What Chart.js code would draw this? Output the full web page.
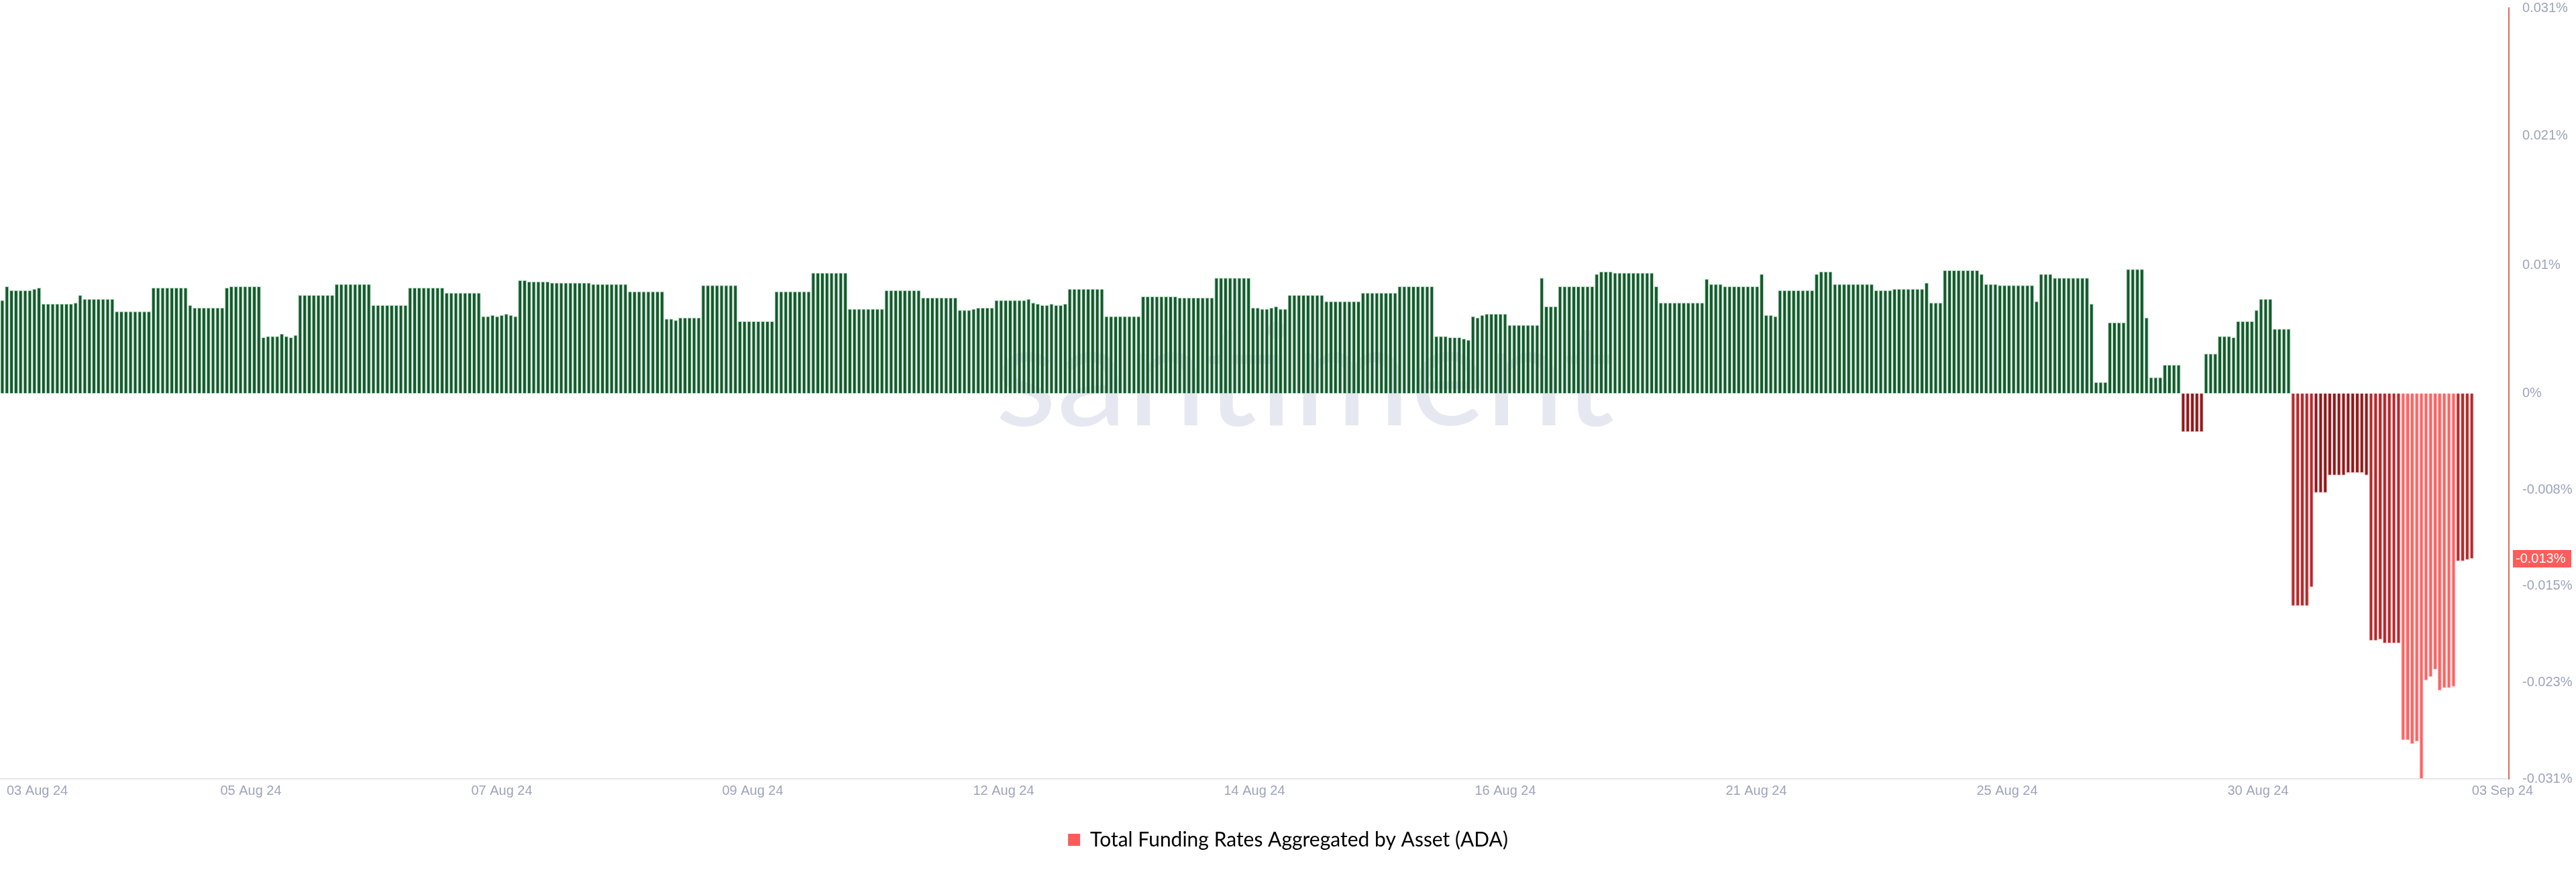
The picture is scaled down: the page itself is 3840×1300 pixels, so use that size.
<!DOCTYPE html>
<html>
<head>
<meta charset="utf-8">
<title>ADA funding rates</title>
<script src="https://cdn.jsdelivr.net/npm/chart.js@4.4.1/dist/chart.umd.min.js"></script>
<style>
  html, body { margin: 0; padding: 0; background: #ffffff; }
  #wrap { width: 3840px; height: 1300px; }
</style>
</head>
<body>
<div id="wrap"><canvas id="chart" width="3840" height="1300"></canvas></div>
<script>
const seriesName = 'Total Funding Rates Aggregated by Asset (ADA)';

// dates shown under the x axis, evenly spread over the plot
const xTickLabels = ['03 Aug 24', '05 Aug 24', '07 Aug 24', '09 Aug 24', '12 Aug 24', '14 Aug 24',
    '16 Aug 24', '21 Aug 24', '25 Aug 24', '30 Aug 24', '03 Sep 24'];

const yTickValues = [0.031, 0.0207, 0.0103, 0, -0.00775, -0.0155, -0.02325, -0.031];
const yTickLabels = ['0.031%', '0.021%', '0.01%', '0%', '-0.008%', '-0.015%', '-0.023%', '-0.031%'];

// funding rate in %, one value per bar
const fundingRate = [
    0.0075, 0.0086, 0.0083, 0.0083, 0.0083, 0.0083, 0.0083, 0.0084, 0.0085,
    0.0072, 0.0072, 0.0072, 0.0072, 0.0072, 0.0072, 0.0072, 0.0073, 0.0079,
    0.0076, 0.0076, 0.0076, 0.0076, 0.0076, 0.0076, 0.0076,
    0.0066, 0.0066, 0.0066, 0.0066, 0.0066, 0.0066, 0.0066, 0.0066,
    0.0085, 0.0085, 0.0085, 0.0085, 0.0085, 0.0085, 0.0085, 0.0085,
    0.0071, 0.0069, 0.0069, 0.0069, 0.0069, 0.0069, 0.0069, 0.0069,
    0.0085, 0.0086, 0.0086, 0.0086, 0.0086, 0.0086, 0.0086, 0.0086,
    0.0045, 0.0046, 0.0046, 0.0046, 0.0048, 0.0046, 0.0045, 0.0047,
    0.0079, 0.0079, 0.0079, 0.0079, 0.0079, 0.0079, 0.0079, 0.0079,
    0.0088, 0.0088, 0.0088, 0.0088, 0.0088, 0.0088, 0.0088, 0.0088,
    0.0071, 0.0071, 0.0071, 0.0071, 0.0071, 0.0071, 0.0071, 0.0071,
    0.0085, 0.0085, 0.0085, 0.0085, 0.0085, 0.0085, 0.0085, 0.0085,
    0.0081, 0.0081, 0.0081, 0.0081, 0.0081, 0.0081, 0.0081, 0.0081,
    0.0062, 0.0062, 0.0063, 0.0062, 0.0063, 0.0064, 0.0063, 0.0062,
    0.0091, 0.0091, 0.0090, 0.0090, 0.0090, 0.0090, 0.0090, 0.0089,
    0.0089, 0.0089, 0.0089, 0.0089, 0.0089, 0.0089, 0.0089, 0.0089,
    0.0088, 0.0088, 0.0088, 0.0088, 0.0088, 0.0088, 0.0088, 0.0088,
    0.0082, 0.0082, 0.0082, 0.0082, 0.0082, 0.0082, 0.0082, 0.0082,
    0.0060, 0.0060, 0.0059, 0.0061, 0.0061, 0.0061, 0.0061, 0.0061,
    0.0087, 0.0087, 0.0087, 0.0087, 0.0087, 0.0087, 0.0087, 0.0087,
    0.0058, 0.0058, 0.0058, 0.0058, 0.0058, 0.0058, 0.0058, 0.0058,
    0.0082, 0.0082, 0.0082, 0.0082, 0.0082, 0.0082, 0.0082, 0.0082,
    0.0097, 0.0097, 0.0097, 0.0097, 0.0097, 0.0097, 0.0097, 0.0097,
    0.0068, 0.0068, 0.0068, 0.0068, 0.0068, 0.0068, 0.0068, 0.0068,
    0.0083, 0.0083, 0.0083, 0.0083, 0.0083, 0.0083, 0.0083, 0.0083,
    0.0077, 0.0077, 0.0077, 0.0077, 0.0077, 0.0077, 0.0077, 0.0077,
    0.0067, 0.0067, 0.0067, 0.0068, 0.0069, 0.0069, 0.0069, 0.0069,
    0.0075, 0.0075, 0.0075, 0.0075, 0.0075, 0.0075, 0.0075, 0.0076,
    0.0073, 0.0072, 0.0071, 0.0071, 0.0072, 0.0071, 0.0071, 0.0072,
    0.0084, 0.0084, 0.0084, 0.0084, 0.0084, 0.0084, 0.0084, 0.0084,
    0.0062, 0.0062, 0.0062, 0.0062, 0.0062, 0.0062, 0.0062, 0.0062,
    0.0078, 0.0078, 0.0078, 0.0078, 0.0078, 0.0078, 0.0078, 0.0078,
    0.0077, 0.0077, 0.0077, 0.0077, 0.0077, 0.0077, 0.0077, 0.0077,
    0.0093, 0.0093, 0.0093, 0.0093, 0.0093, 0.0093, 0.0093, 0.0093,
    0.0069, 0.0069, 0.0068, 0.0068, 0.0069, 0.0070, 0.0068, 0.0068,
    0.0079, 0.0079, 0.0079, 0.0079, 0.0079, 0.0079, 0.0079, 0.0079,
    0.0074, 0.0074, 0.0074, 0.0074, 0.0074, 0.0074, 0.0074, 0.0074,
    0.0081, 0.0081, 0.0081, 0.0081, 0.0081, 0.0081, 0.0081, 0.0081,
    0.0086, 0.0086, 0.0086, 0.0086, 0.0086, 0.0086, 0.0086, 0.0086,
    0.0046, 0.0046, 0.0046, 0.0045, 0.0045, 0.0045, 0.0044, 0.0043,
    0.0062, 0.0061, 0.0063, 0.0064, 0.0064, 0.0064, 0.0064, 0.0064,
    0.0055, 0.0055, 0.0055, 0.0055, 0.0055, 0.0055, 0.0055, 0.0093,
    0.0070, 0.0070, 0.0070,
    0.0086, 0.0086, 0.0086, 0.0086, 0.0086, 0.0086, 0.0086, 0.0086,
    0.0096, 0.0098, 0.0098, 0.0098,
    0.0097, 0.0097, 0.0097, 0.0097, 0.0097, 0.0097, 0.0097, 0.0097, 0.0097,
    0.0086,
    0.0073, 0.0073, 0.0073, 0.0073, 0.0073, 0.0073, 0.0073, 0.0073, 0.0073, 0.0073,
    0.0092, 0.0088, 0.0088, 0.0088,
    0.0086, 0.0086, 0.0086, 0.0086, 0.0086, 0.0086, 0.0086, 0.0086,
    0.0096, 0.0063, 0.0063, 0.0062,
    0.0083, 0.0083, 0.0083, 0.0083, 0.0083, 0.0083, 0.0083, 0.0083,
    0.0096, 0.0098, 0.0098, 0.0098,
    0.0088, 0.0088, 0.0088, 0.0088, 0.0088, 0.0088, 0.0088, 0.0088, 0.0088,
    0.0083, 0.0083, 0.0083, 0.0083,
    0.0084, 0.0084, 0.0084, 0.0084, 0.0084, 0.0084, 0.0084, 0.0089,
    0.0073, 0.0073, 0.0073,
    0.0099, 0.0099, 0.0099, 0.0099, 0.0099, 0.0099, 0.0099, 0.0099,
    0.0096, 0.0088, 0.0088, 0.0088,
    0.0087, 0.0087, 0.0087, 0.0087, 0.0087, 0.0087, 0.0087, 0.0087,
    0.0074, 0.0096, 0.0096, 0.0096,
    0.0093, 0.0093, 0.0093, 0.0093, 0.0093, 0.0093, 0.0093, 0.0093,
    0.0072, 0.0009, 0.0009, 0.0009,
    0.0057, 0.0057, 0.0057, 0.0057,
    0.0100, 0.0100, 0.0100, 0.0100,
    0.0061, 0.0013, 0.0013, 0.0013,
    0.0023, 0.0023, 0.0023, 0.0023,
    -0.0031, -0.0031, -0.0031, -0.0031, -0.0031,
    0.0032, 0.0032, 0.0032,
    0.0046, 0.0046, 0.0046, 0.0045,
    0.0058, 0.0058, 0.0058, 0.0058,
    0.0067, 0.0076, 0.0076, 0.0076,
    0.0052, 0.0052, 0.0052, 0.0052,
    -0.0171, -0.0171, -0.0171, -0.0171, -0.0156,
    -0.0080, -0.0080, -0.0080,
    -0.0066, -0.0066, -0.0066, -0.0066,
    -0.0064, -0.0064, -0.0064, -0.0064, -0.0066,
    -0.0199, -0.0199, -0.0198, -0.0201, -0.0201, -0.0201, -0.0201,
    -0.0279, -0.0279, -0.0282, -0.0280, -0.0310,
    -0.0231, -0.0228, -0.0222, -0.0239, -0.0237, -0.0237, -0.0236,
    -0.0135, -0.0135, -0.0134, -0.0133
];

const emptySlots = 7.6;   // blank room right of the last bar

function barFill(v) {
    if (v === undefined || v >= 0) return '#16582f';
    const a = Math.abs(v);
    if (a < 0.01) return '#8c1a1c';
    if (a < 0.021) return '#b3292c';
    return '#ff6363';
}
function barEdge(v) {
    if (v === undefined || v >= 0) return '#a3d6b0';
    return '#f6b9b9';
}

const decor = {
    id: 'decor',
    beforeDatasetsDraw(chart) {
        const ctx = chart.ctx;
        ctx.save();
        ctx.font = '400 212px Lato';
        ctx.fillStyle = '#e6e8f1';
        ctx.textAlign = 'center';
        ctx.textBaseline = 'alphabetic';
        ctx.fillText('santiment', 1945, 634);
        ctx.restore();
    },
    afterDraw(chart) {
        const ctx = chart.ctx;
        const xs = chart.scales.x;
        const ys = chart.scales.y;
        ctx.save();
        // x labels, kept inside the canvas like the original
        ctx.font = '20px "Liberation Sans"';
        ctx.fillStyle = '#9ea4bc';
        ctx.textBaseline = 'middle';
        ctx.textAlign = 'center';
        const n = xTickLabels.length;
        xTickLabels.forEach((lab, k) => {
            const v = xs.min + k * (xs.max - xs.min) / (n - 1);
            const w = ctx.measureText(lab).width;
            let px = xs.getPixelForValue(v);
            px = Math.max(px, w / 2 + 10);
            px = Math.min(px, chart.width - w / 2 - 64);
            ctx.fillText(lab, px, xs.top + 18);
        });
        // last value tag on the y axis
        const last = fundingRate[fundingRate.length - 1];
        const py = ys.getPixelForValue(last);
        ctx.fillStyle = '#ff5b5b';
        ctx.fillRect(ys.left + 6, py - 13, 87, 26);
        ctx.fillStyle = '#ffffff';
        ctx.textAlign = 'left';
        ctx.fillText(last.toFixed(3) + '%', ys.left + 10, py + 1);
        ctx.restore();
    }
};

Chart.defaults.font.family = '"Liberation Sans", Arial, sans-serif';

new Chart(document.getElementById('chart'), {
    type: 'bar',
    data: {
        datasets: [{
            label: seriesName,
            data: fundingRate.map((v, i) => ({ x: i, y: v })),
            backgroundColor: (c) => barFill(fundingRate[c.dataIndex]),
            borderColor: (c) => barEdge(fundingRate[c.dataIndex]),
            borderWidth: 1,
            barPercentage: 0.86,
            categoryPercentage: 1.0
        }]
    },
    options: {
        responsive: false,
        devicePixelRatio: 1,
        animation: false,
        layout: { padding: { top: 0, left: 0, right: 0, bottom: 23 } },
        scales: {
            x: {
                type: 'linear',
                offset: false,
                min: -0.5,
                max: fundingRate.length - 0.5 + emptySlots,
                grid: { display: false },
                border: { display: true, color: '#e6e6ec', width: 2 },
                ticks: { display: false },
                afterFit: (s) => { s.height = 66; }
            },
            y: {
                position: 'right',
                min: -0.031,
                max: 0.031,
                grid: { display: false },
                border: { display: true, color: '#de6a60', width: 2 },
                afterBuildTicks: (s) => { s.ticks = yTickValues.map(v => ({ value: v })); },
                ticks: {
                    padding: 12,
                    color: '#9ea4bc',
                    font: { size: 20 },
                    callback: (v, i) => yTickLabels[i]
                },
                afterFit: (s) => {
                    s.width = 100;
                    s.paddingTop = 12;
                    s.paddingBottom = 0;
                }
            }
        },
        plugins: {
            tooltip: { enabled: false },
            legend: {
                position: 'bottom',
                labels: {
                    boxWidth: 18,
                    boxHeight: 18,
                    padding: 10,
                    color: '#1c1e2f',
                    font: { family: 'Lato', size: 30 },
                    generateLabels: () => [{
                        text: seriesName,
                        fillStyle: '#ff5b5b',
                        strokeStyle: '#ff5b5b',
                        lineWidth: 0,
                        hidden: false,
                        datasetIndex: 0
                    }]
                }
            }
        }
    },
    plugins: [decor]
});
</script>
</body>
</html>
